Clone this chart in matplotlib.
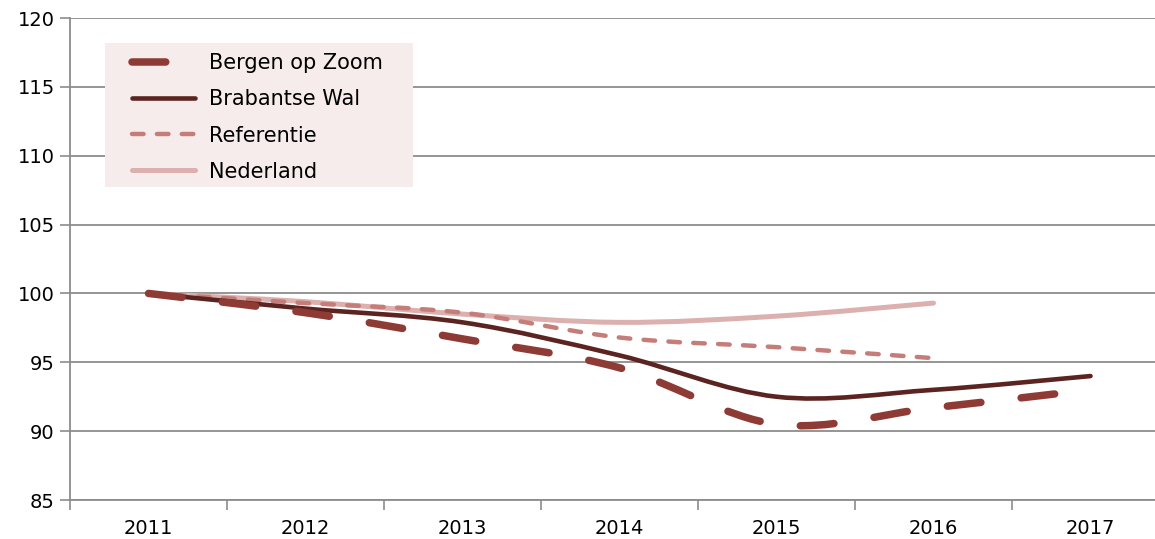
import matplotlib
matplotlib.use("Agg")
import matplotlib.pyplot as plt
from matplotlib.path import Path
from matplotlib.patches import PathPatch, Rectangle
from matplotlib.lines import Line2D

years = ["2011", "2012", "2013", "2014", "2015", "2016", "2017"]
bergen = [100, 98.6, 96.7, 94.6, 90.5, 91.7, 93.0]
brabantse = [100, 98.9, 97.9, 95.5, 92.5, 93.0, 94.0]
referentie = [100, 99.3, 98.6, 96.8, 96.1, 95.3]
nederland = [100, 99.4, 98.5, 97.9, 98.35, 99.3]

names = ["Bergen op Zoom", "Brabantse Wal", "Referentie", "Nederland"]
colors = ["#8E3B36", "#5B2420", "#C57D79", "#DCB0AE"]
widths = [5.4, 3.3, 3.2, 3.6]
dashes = [(4.5, 5.4), None, (2.6, 3.0), None]


def smooth_path(values):
    # excel style smoothed line: cubic bezier through the points
    pts = list(enumerate(values))
    verts = [pts[0]]
    codes = [Path.MOVETO]
    n = len(pts)
    for i in range(n - 1):
        p0 = pts[max(i - 1, 0)]
        p1 = pts[i]
        p2 = pts[i + 1]
        p3 = pts[min(i + 2, n - 1)]
        c1 = (p1[0] + (p2[0] - p0[0]) / 6, p1[1] + (p2[1] - p0[1]) / 6)
        c2 = (p2[0] - (p3[0] - p1[0]) / 6, p2[1] - (p3[1] - p1[1]) / 6)
        verts += [c1, c2, p2]
        codes += [Path.CURVE4] * 3
    return Path(verts, codes)


fig = plt.figure(figsize=(11.55, 5.39), dpi=100)
ax = fig.add_axes([70 / 1155, 39 / 539, 1099 / 1155, 482 / 539])

series = [bergen, brabantse, referentie, nederland]
order = [3, 2, 1, 0]
for k in order:
    ls = "solid" if dashes[k] is None else (0, dashes[k])
    patch = PathPatch(smooth_path(series[k]), fill=False, edgecolor=colors[k],
                      linewidth=widths[k], linestyle=ls, capstyle="round",
                      joinstyle="round", zorder=3 + (3 - k))
    ax.add_patch(patch)

ax.set_xlim(-0.5, len(years) - 0.5)
ax.set_ylim(85, 120)
ax.set_yticks(range(85, 121, 5))
ax.set_xticks([i - 0.5 for i in range(len(years) + 1)])
ax.set_xticklabels([])
ax.set_xticks(range(len(years)), minor=True)
ax.set_xticklabels(years, minor=True)

ax.tick_params(axis="x", which="major", length=7, width=1.2, color="#8C8C8C")
ax.tick_params(axis="x", which="minor", length=0, pad=14, labelsize=14)
ax.tick_params(axis="y", length=7, width=1.2, color="#8C8C8C", pad=4, labelsize=14)

ax.grid(axis="y", color="#8C8C8C", linewidth=1.3, zorder=1)
ax.set_axisbelow(True)
for s in ["top", "right"]:
    ax.spines[s].set_visible(False)
for s in ["left", "bottom"]:
    ax.spines[s].set_color("#8C8C8C")
    ax.spines[s].set_linewidth(1.3)

# legend box
box = Rectangle((105 / 1155, 1 - 187 / 539), 308 / 1155, 144 / 539,
                transform=fig.transFigure, facecolor="#F6ECEB", edgecolor="none",
                zorder=10)
ax.add_artist(box)

handles = []
for k in range(4):
    ls = "-" if dashes[k] is None else (0, dashes[k])
    handles.append(Line2D([], [], color=colors[k], linewidth=widths[k], linestyle=ls,
                          dash_capstyle="round", solid_capstyle="round"))
leg = ax.legend(handles, names, loc="upper left", frameon=False, fontsize=15,
                bbox_to_anchor=(132 / 1155, 1 - 53 / 539),
                bbox_transform=fig.transFigure, borderpad=0, borderaxespad=0,
                handlelength=3.0, handletextpad=0.7, labelspacing=0.78)
leg.set_zorder(11)

fig.savefig("out.png", dpi=100)
